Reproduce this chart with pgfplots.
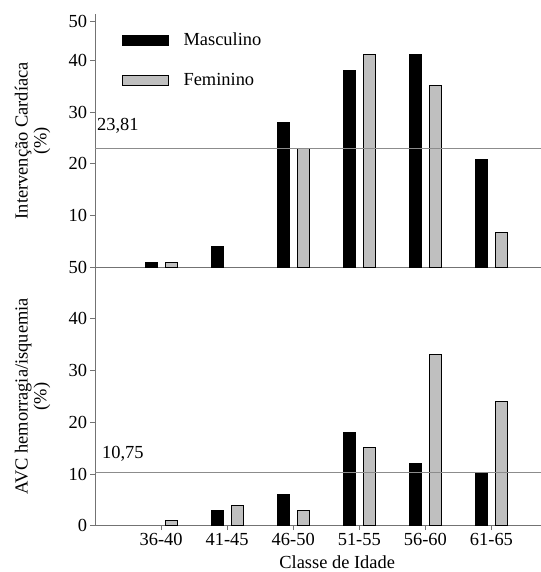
\documentclass[border=0pt]{standalone}
\usepackage{fontspec}
\setmainfont{Liberation Serif}
\usepackage{pgfplots}
\pgfplotsset{compat=1.18}

\definecolor{axgray}{gray}{0.45}
\definecolor{meangray}{gray}{0.55}
\definecolor{fembar}{gray}{0.75}

\newcommand{\lblfont}{\fontsize{18.5}{16}\selectfont}

\pgfplotsset{
  panel/.style={
    scale only axis,
    width=446bp,
    xmin=-1, xmax=5.75,
    ymin=0,
    axis x line=bottom,
    axis y line=left,
    axis line style={draw=axgray, line width=0.8bp, -},
    tick style={draw=axgray, line width=0.8bp},
    major tick length=4.5bp,
    tick align=outside,
    ybar, bar width=12bp,
    clip=false,
    tick label style={font=\lblfont},
    ylabel style={font=\fontsize{18.5}{19}\selectfont, align=center,
      at={(axis description cs:-0.14,0.5)}, anchor=center, rotate=0},
  },
  masc/.style={fill=black, draw=black, line width=0.6bp, bar shift=-10bp,
    legend image code/.code={\draw[##1] (0bp,-5bp) rectangle (46bp,5bp);}},
  femi/.style={fill=fembar, draw=black, line width=0.6bp, bar shift=10bp,
    legend image code/.code={\draw[##1] (0bp,-5bp) rectangle (46bp,5bp);}},
}

\begin{document}
\begin{tikzpicture}

% upper panel: cardiac intervention
\begin{axis}[panel,
  at={(0,258.5bp)}, anchor=south west,
  height=253bp, ymax=48.94,
  xtick=\empty,
  ytick={10,20,30,40,47.5},
  yticklabels={10,20,30,40,50},
  ylabel={Intervenção Cardíaca\\(\%)},
  legend cell align=left,
  legend style={draw=none, fill=none, font=\lblfont,
    at={(axis description cs:0.06,0.935)}, anchor=north west,
    row sep=22bp, inner sep=0pt,
    /tikz/every odd column/.append style={column sep=13bp}},
]
\addplot[masc] coordinates {(0,1) (1,4) (2,28) (3,38) (4,41.1) (5,20.9)};
\addplot[femi] coordinates {(0,1) (2,23) (3,41.1) (4,35.1) (5,6.8)};
\legend{Masculino, Feminino}
\addplot[sharp plot, draw=meangray, line width=0.8bp, forget plot]
  coordinates {(-1,23) (5.75,23)};
\node[anchor=base west, inner sep=0pt, font=\lblfont]
  at (axis cs:-1,23) [xshift=2bp, yshift=18bp] {23,81};
\end{axis}

% lower panel: stroke
\begin{axis}[panel,
  at={(0,0)}, anchor=south west,
  height=258.5bp, ymax=50,
  xtick={0,1,2,3,4,5},
  xticklabels={36-40,41-45,46-50,51-55,56-60,61-65},
  ytick={0,10,20,30,40,50},
  yticklabels={0,10,20,30,40,50},
  ylabel={AVC hemorragia/isquemia\\(\%)},
  xlabel={Classe de Idade},
  xlabel style={font=\lblfont, at={(axis description cs:0.543,0)},
    anchor=north, yshift=-26bp},
]
\addplot[masc] coordinates {(1,3) (2,6.1) (3,18) (4,12.1) (5,10.1)};
\addplot[femi] coordinates {(0,1) (1,4) (2,3) (3,15.1) (4,33.1) (5,24.1)};
\addplot[sharp plot, draw=meangray, line width=0.8bp, forget plot]
  coordinates {(-1,10.33) (5.75,10.33)};
\node[anchor=base west, inner sep=0pt, font=\lblfont]
  at (axis cs:-1,10.33) [xshift=7bp, yshift=14bp] {10,75};
\end{axis}

\pgfresetboundingbox
\path[use as bounding box] (-95bp,-46.3bp) rectangle (446bp,525.7bp);
\end{tikzpicture}
\end{document}
